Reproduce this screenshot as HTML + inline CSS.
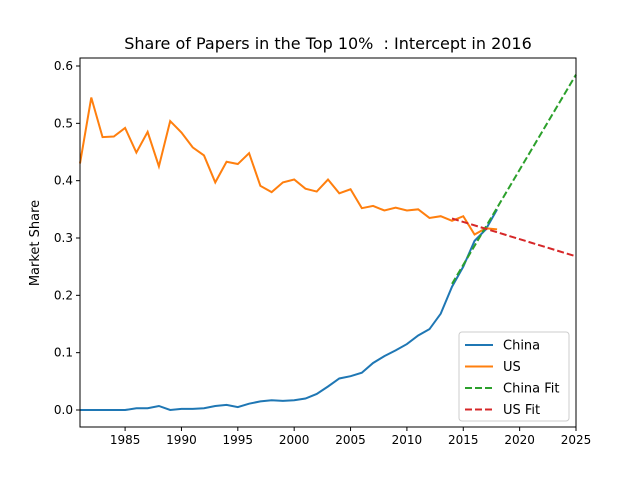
<!DOCTYPE html>
<html><head><meta charset="utf-8"><style>
body{margin:0;background:#fff;font-family:"Liberation Sans","DejaVu Sans",sans-serif}
text{font-family:"DejaVu Sans","Liberation Sans",sans-serif}
</style></head><body>
<svg id="chart" width="640" height="480" xmlns="http://www.w3.org/2000/svg">
<rect width="640" height="480" fill="#fff"/>
<text x="328" y="49" font-size="16" text-anchor="middle" style="white-space:pre">Share of Papers in the Top 10%  : Intercept in 2016</text>
<text x="39" y="243" font-size="13" text-anchor="middle" transform="rotate(-90 39 243)">Market Share</text>
<g id="plot"></g>
</svg>
<script>
const years=[1981,1982,1983,1984,1985,1986,1987,1988,1989,1990,1991,1992,1993,1994,1995,1996,1997,1998,1999,2000,2001,2002,2003,2004,2005,2006,2007,2008,2009,2010,2011,2012,2013,2014,2015,2016,2017,2018];
const usValues=[0.43,0.545,0.476,0.477,0.492,0.449,0.485,0.425,0.504,0.484,0.458,0.444,0.397,0.433,0.429,0.448,0.391,0.380,0.397,0.402,0.386,0.381,0.402,0.378,0.385,0.352,0.356,0.348,0.353,0.348,0.350,0.335,0.338,0.330,0.338,0.306,0.317,0.315];
const chinaValues=[0,0,0,0,0,0.003,0.003,0.007,0,0.002,0.002,0.003,0.007,0.009,0.005,0.011,0.015,0.017,0.016,0.017,0.020,0.028,0.041,0.055,0.059,0.065,0.082,0.094,0.104,0.115,0.130,0.141,0.168,0.215,0.250,0.295,0.315,0.350];
const fitYears=[2014,2025];
const chinaFit=[0.22,0.585];
const usFit=[0.334,0.268];
const xTicks=[1985,1990,1995,2000,2005,2010,2015,2020,2025];
const yTicks=[0.0,0.1,0.2,0.3,0.4,0.5,0.6];
const NS='http://www.w3.org/2000/svg';
const L=80,R=576,T=58,B=427;
const x=v=>L+(v-1981)/(2025-1981)*(R-L);
const y=v=>410-v*(410-66)/0.6;
const g=document.getElementById('plot');
function el(t,a){const e=document.createElementNS(NS,t);for(const k in a)e.setAttribute(k,a[k]);g.appendChild(e);return e;}
function line(xs,ys,color,dash,name){
  const p=el('polyline',{points:xs.map((v,i)=>x(v)+','+y(ys[i])).join(' '),fill:'none',stroke:color,'stroke-width':2,'stroke-dasharray':dash||'none'});
  
  
}
line(years,chinaValues,'#1f77b4','', 'china-line');
line(years,usValues,'#ff7f0e','', 'us-line');
line(fitYears,chinaFit,'#2ca02c','7,3','china-fit-line');
line(fitYears,usFit,'#d62728','7,3','us-fit-line');
const frame=el('rect',{x:L,y:T,width:R-L,height:B-T,fill:'none',stroke:'#000','stroke-width':1});


xTicks.forEach(v=>{
  el('line',{x1:x(v),x2:x(v),y1:B,y2:B+4,stroke:'#000'});
  const t=el('text',{x:x(v),y:B+17,'font-size':12,'text-anchor':'middle'});t.textContent=v;
  
  
});
yTicks.forEach(v=>{
  el('line',{x1:L-4,x2:L,y1:y(v),y2:y(v),stroke:'#000'});
  const t=el('text',{x:L-7,y:y(v)+4,'font-size':12,'text-anchor':'end'});t.textContent=v.toFixed(1);
  
  
});
const lg=el('rect',{x:459,y:332,width:110,height:89,rx:3,fill:'#fff',stroke:'#ccc'});


[['China','#1f77b4',''],['US','#ff7f0e',''],['China Fit','#2ca02c','7,3'],['US Fit','#d62728','7,3']].forEach((d,i)=>{
  const yy=345+i*21.5;
  el('line',{x1:465,x2:493,y1:yy,y2:yy,stroke:d[1],'stroke-width':2,'stroke-dasharray':d[2]||'none'});
  const t=el('text',{x:503,y:yy+4.5,'font-size':13});t.textContent=d[0];
  
  
});
</script>
</body></html>
